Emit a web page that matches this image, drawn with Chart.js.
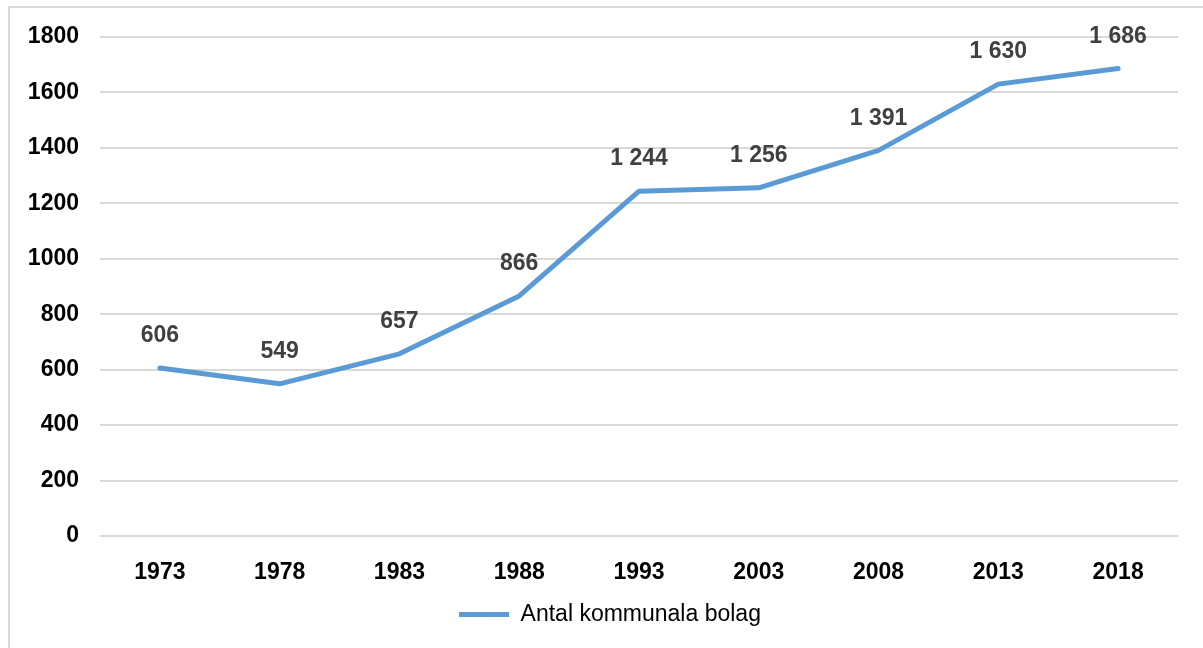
<!DOCTYPE html>
<html>
<head>
<meta charset="utf-8">
<script src="https://cdn.jsdelivr.net/npm/chart.js@4"></script>
<style>
    html, body { margin: 0; padding: 0; background: #fff; overflow: hidden; }
    #frame { position: absolute; left: 8px; top: 6px; width: 1300px; height: 700px; border: 2px solid #d9d9d9; }
    #wrap { position: absolute; left: 0; top: 0; width: 1203px; height: 648px; }
</style>
</head>
<body>
<div id="frame"></div>
<div id="wrap"><canvas id="chart"></canvas></div>
<script>
const years = ['1973', '1978', '1983', '1988', '1993', '2003', '2008', '2013', '2018'];
const bolag = [606, 549, 657, 866, 1244, 1256, 1391, 1630, 1686];
const seriesName = 'Antal kommunala bolag';

function formatNum(v) {
    return String(v).replace(/\B(?=(\d{3})+(?!\d))/g, ' ');
}

// draw the value above each point
const valueLabels = {
    id: 'valueLabels',
    afterDatasetsDraw(chart) {
        const ctx = chart.ctx;
        const meta = chart.getDatasetMeta(0);
        ctx.save();
        ctx.font = 'bold 23px "Liberation Sans", Arial, sans-serif';
        ctx.fillStyle = '#404040';
        ctx.textAlign = 'center';
        ctx.textBaseline = 'middle';
        meta.data.forEach((pt, i) => {
            ctx.fillText(formatNum(bolag[i]), pt.x, pt.y - 32);
        });
        ctx.restore();
    }
};

// nudge the legend a bit to the right, like the original
const legendShift = {
    id: 'legendShift',
    afterLayout(chart) {
        if (chart.legend) {
            chart.legend.left += 17;
            chart.legend.right += 17;
        }
    }
};

const ctx = document.getElementById('chart').getContext('2d');
new Chart(ctx, {
    type: 'line',
    data: {
        labels: years,
        datasets: [{
            label: seriesName,
            data: bolag,
            borderColor: '#5B9BD5',
            backgroundColor: '#5B9BD5',
            borderWidth: 5,
            borderCapStyle: 'round',
            borderJoinStyle: 'round',
            pointRadius: 0,
            tension: 0
        }]
    },
    options: {
        responsive: true,
        maintainAspectRatio: false,
        animation: false,
        layout: {
            padding: { left: 8, right: 25, top: 37, bottom: 12 }
        },
        plugins: {
            tooltip: { enabled: false },
            legend: {
                position: 'bottom',
                labels: {
                    usePointStyle: true,
                    pointStyle: 'line',
                    pointStyleWidth: 50,
                    padding: 10,
                    color: '#000',
                    font: { family: '"Liberation Sans", Arial, sans-serif', size: 23 }
                }
            }
        },
        scales: {
            x: {
                offset: true,
                grid: { display: false },
                border: { display: false },
                ticks: {
                    padding: 15,
                    color: '#000',
                    font: { family: '"Liberation Sans", Arial, sans-serif', size: 23, weight: 'bold' }
                },
                afterFit: s => { s.height = 57; }
            },
            y: {
                min: 0,
                max: 1800,
                border: { display: false },
                grid: { color: '#d9d9d9', lineWidth: 2, drawTicks: false },
                ticks: {
                    stepSize: 200,
                    padding: 21,
                    color: '#000',
                    font: { family: '"Liberation Sans", Arial, sans-serif', size: 23, weight: 'bold' },
                    callback: v => String(v)
                },
                afterFit: s => { s.width = 92; }
            }
        }
    },
    plugins: [valueLabels, legendShift]
});
</script>
</body>
</html>
